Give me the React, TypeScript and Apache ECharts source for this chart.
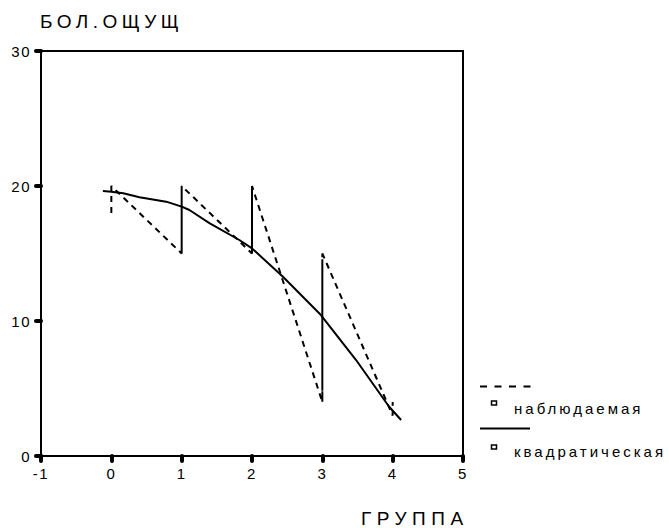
import React, { useEffect, useRef } from "react";
import * as echarts from "echarts";

// ---- data ----
const yTicks = [0, 10, 20, 30];
const xTicks = [-1, 0, 1, 2, 3, 4, 5];
const yTitle = "БОЛ.ОЩУЩ";
const xTitle = "ГРУППА";
const seriesNames = ["наблюдаемая", "квадратическая"];

// observed values, in plotted order (sorted by group)
const obsGroup = [
  0, 0,
  1, 1, 1, 1, 1, 1, 1, 1,
  2, 2, 2, 2, 2, 2, 2, 2,
  3, 3, 3, 3, 3, 3, 3, 3,
  4, 4,
];
const obsValue = [
  18, 20,
  15, 20, 16, 19, 15, 18, 17, 20,
  15, 20, 17, 16, 19, 15, 18, 20,
  4, 15, 4, 12, 5, 14, 4, 15,
  3, 4,
];

// quadratic fit
const fitX = [-0.12, 0, 0.17, 0.4, 0.78, 1, 1.11, 1.4, 1.82, 2, 2.44, 2.98, 3.48, 3.95, 4.12];
const fitY = [19.63, 19.58, 19.46, 19.16, 18.84, 18.47, 18.22, 17.23, 16.0, 15.38, 13.28, 10.44, 7.11, 3.65, 2.67];

const FONT = "'Liberation Sans', Arial, sans-serif";

export default function App() {
  const ref = useRef<HTMLDivElement>(null);

  useEffect(() => {
    if (!ref.current) return;
    const chart = echarts.init(ref.current, null, { renderer: "svg" });
    const obsData = obsGroup.map((g, i) => [g, obsValue[i]]);
    const fitData = fitX.map((x, i) => [x, fitY[i]]);

    const option: any = {
      animation: false,
      backgroundColor: "#fff",
      grid: {
        left: 41,
        right: 206,
        top: 51,
        bottom: 72,
        show: true,
        borderColor: "#000",
        borderWidth: 2,
        backgroundColor: "transparent",
      },
      xAxis: {
        type: "value",
        min: xTicks[0],
        max: xTicks[xTicks.length - 1],
        interval: 1,
        axisLine: { show: true, onZero: false, lineStyle: { color: "#000", width: 2 } },
        axisTick: { show: true, length: 5, lineStyle: { color: "#000", width: 4, cap: "round" } },
        axisLabel: { color: "#000", fontSize: 15, fontFamily: FONT, margin: 10 },
        splitLine: { show: false },
      },
      yAxis: {
        type: "value",
        min: yTicks[0],
        max: yTicks[yTicks.length - 1],
        interval: 10,
        axisLine: { show: true, onZero: false, lineStyle: { color: "#000", width: 2 } },
        axisTick: { show: true, length: 5, lineStyle: { color: "#000", width: 4, cap: "round" } },
        axisLabel: { color: "#000", fontSize: 15, fontFamily: FONT, margin: 10 },
        splitLine: { show: false },
      },
      series: [
        {
          name: seriesNames[0],
          type: "line",
          data: obsData,
          showSymbol: false,
          symbol: "none",
          lineStyle: { color: "#000", width: 2, type: [6, 5] },
          z: 3,
        },
        {
          name: seriesNames[1],
          type: "line",
          data: fitData,
          showSymbol: false,
          symbol: "none",
          lineStyle: { color: "#000", width: 2 },
          z: 4,
        },
      ],
      graphic: [
        {
          type: "text",
          x: 40,
          y: 21,
          style: { text: yTitle, fontSize: 19, fontFamily: FONT, fill: "#000", textVerticalAlign: "middle" },
        },
        {
          type: "text",
          x: 361,
          y: 518,
          style: { text: xTitle, fontSize: 19, fontFamily: FONT, fill: "#000", textVerticalAlign: "middle" },
        },
        {
          type: "line",
          shape: { x1: 480, y1: 386.5, x2: 531, y2: 386.5 },
          style: { stroke: "#000", lineWidth: 2, lineDash: [7, 7.5] },
        },
        {
          type: "rect",
          shape: { x: 491.5, y: 401, width: 5, height: 4 },
          style: { fill: "#fff", stroke: "#000", lineWidth: 1.5 },
        },
        {
          type: "text",
          x: 514,
          y: 408,
          style: { text: seriesNames[0], fontSize: 15, fontFamily: FONT, fill: "#000", textVerticalAlign: "middle" },
        },
        {
          type: "line",
          shape: { x1: 480, y1: 428.5, x2: 530, y2: 428.5 },
          style: { stroke: "#000", lineWidth: 2 },
        },
        {
          type: "rect",
          shape: { x: 491.5, y: 445, width: 5, height: 4 },
          style: { fill: "#fff", stroke: "#000", lineWidth: 1.5 },
        },
        {
          type: "text",
          x: 514,
          y: 451,
          style: { text: seriesNames[1], fontSize: 15, fontFamily: FONT, fill: "#000", textVerticalAlign: "middle" },
        },
      ],
    };
    chart.setOption(option);

    const applySpacing = () => {
      if (!ref.current) return;
      ref.current.querySelectorAll("text").forEach((t) => {
        const s = (t.textContent || "").trim();
        let sp = "1.5px";
        if (s === yTitle) sp = "4.5px";
        else if (s === xTitle) sp = "5.5px";
        else if (seriesNames.includes(s)) sp = "3px";
        t.setAttribute("letter-spacing", sp);
      });
    };
    applySpacing();
    chart.on("finished", applySpacing);

    return () => {
      chart.dispose();
    };
  }, []);

  return (
    <div
      ref={ref}
      style={{ position: "absolute", left: 0, top: 0, width: 669, height: 528, background: "#fff" }}
    />
  );
}
